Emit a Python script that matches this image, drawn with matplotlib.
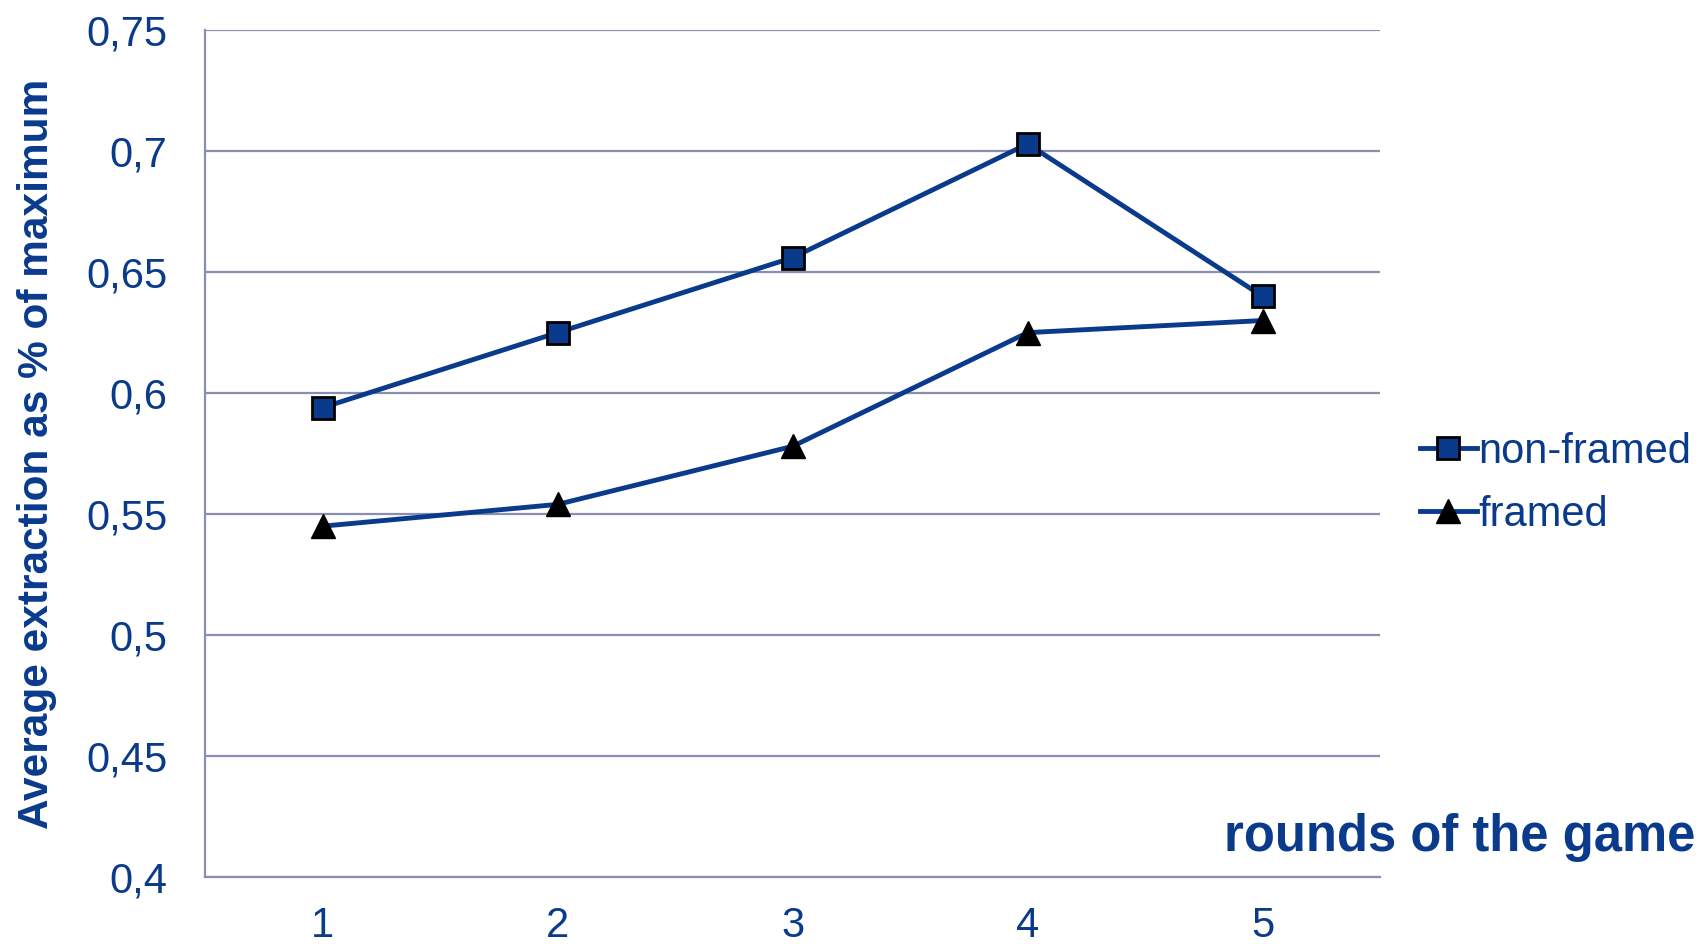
import numpy as np
import matplotlib
matplotlib.use("Agg")
import matplotlib.pyplot as plt

plt.rcParams['font.family'] = ['Liberation Sans', 'DejaVu Sans']

# data
rounds = [1, 2, 3, 4, 5]
non_framed = [0.594, 0.625, 0.656, 0.703, 0.640]
framed = [0.545, 0.554, 0.578, 0.625, 0.630]
y_ticks = [0.4, 0.45, 0.5, 0.55, 0.6, 0.65, 0.7, 0.75]
y_labels = ['0,4', '0,45', '0,5', '0,55', '0,6', '0,65', '0,7', '0,75']

blue = '#0A3A8C'
grid_col = '#8A8FB2'

fig = plt.figure(figsize=(17.06, 9.44), dpi=100)
ax = fig.add_axes([0.1202, 0.071, 0.6888, 0.897])

ax.plot(rounds, non_framed, color=blue, lw=3.5, marker='s', ms=16,
        mfc=blue, mec='black', mew=2, label='non-framed', zorder=3)
ax.plot(rounds, framed, color=blue, lw=3.5, marker='^', ms=17,
        mfc='black', mec='black', mew=1, label='framed', zorder=3)

ax.set_xlim(0.5, 5.5)
ax.set_ylim(0.4, 0.75)
ax.set_yticks(y_ticks)
ax.set_yticklabels(y_labels)
ax.set_xticks(rounds)
ax.set_xticklabels([str(r) for r in rounds])
ax.tick_params(axis='both', length=0, labelsize=30, labelcolor=blue)
ax.tick_params(axis='y', pad=27)
ax.tick_params(axis='x', pad=21)

ax.grid(axis='y', color=grid_col, lw=1.6)
ax.set_axisbelow(True)
for s in ['top', 'right']:
    ax.spines[s].set_visible(False)
for s in ['left', 'bottom']:
    ax.spines[s].set_color(grid_col)
    ax.spines[s].set_linewidth(1.6)

ax.set_ylabel('Average extraction as % of maximum', fontsize=30.5,
              fontweight='bold', color=blue)
ax.yaxis.set_label_coords(-0.126, 0.5)

fig.text(0.994, 0.098, 'rounds of the game', fontsize=36.5, fontweight='bold',
         color=blue, ha='right', va='baseline')

leg = ax.legend(loc='center left', bbox_to_anchor=(1.02, 0.465), frameon=False,
                fontsize=30, labelcolor=blue, handlelength=1.35,
                handletextpad=0.05, labelspacing=0.55, borderaxespad=0)

fig.savefig('out.png', dpi=100)
